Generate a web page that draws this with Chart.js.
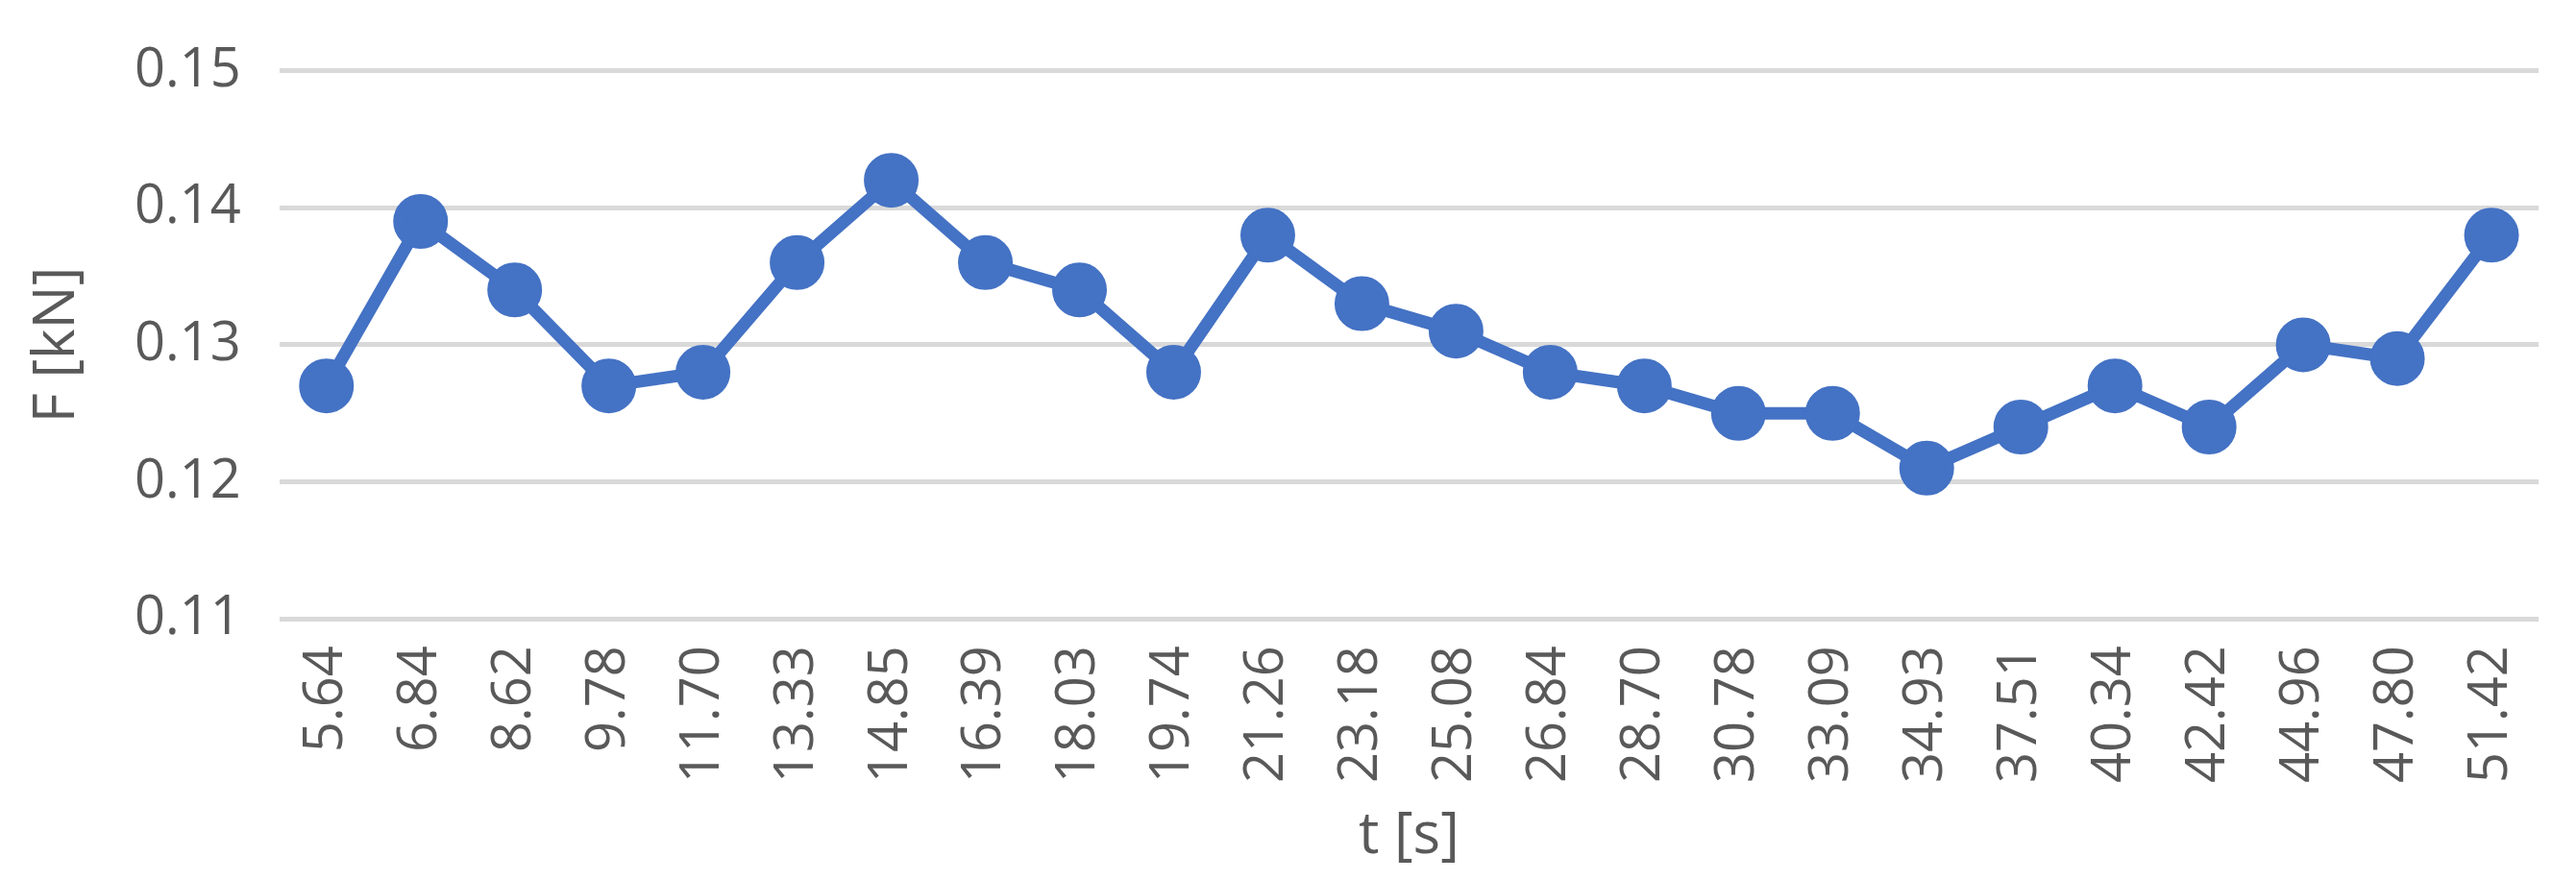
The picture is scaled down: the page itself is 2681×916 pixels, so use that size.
<!DOCTYPE html>
<html><head><meta charset="utf-8">
<script src="https://cdn.jsdelivr.net/npm/chart.js@4"></script>
<style>html,body{margin:0;padding:0;background:#fff}</style>
</head><body>
<canvas id="c" width="2681" height="916"></canvas>
<script>
const categories = ["5.64","6.84","8.62","9.78","11.70","13.33","14.85","16.39","18.03","19.74","21.26","23.18","25.08","26.84","28.70","30.78","33.09","34.93","37.51","40.34","42.42","44.96","47.80","51.42"];
const forceValues = [0.127,0.139,0.134,0.127,0.128,0.136,0.142,0.136,0.134,0.128,0.138,0.133,0.131,0.128,0.127,0.125,0.125,0.121,0.124,0.127,0.124,0.130,0.129,0.138];
const font = {family:"'Open Sans','Liberation Sans',sans-serif", size:56};
new Chart(document.getElementById('c'), {
  type:'line',
  data:{labels:categories, datasets:[{data:forceValues, borderColor:'#4472C4', backgroundColor:'#4472C4', borderWidth:13, pointRadius:22, pointHoverRadius:22, tension:0}]},
  options:{
    responsive:false, animation:false,
    layout:{padding:{top:20,right:15,left:20,bottom:5}},
    plugins:{legend:{display:false}, tooltip:{enabled:false}},
    scales:{
      x:{offset:true, grid:{display:false}, border:{display:false},
         ticks:{color:'#595959', font:font, minRotation:90, maxRotation:90, autoSkip:false, padding:20},
         title:{display:true, text:'t [s]', color:'#595959', font:{family:font.family,size:60}, padding:{top:0}}},
      y:{min:0.11, max:0.15, grid:{color:'#d9d9d9', lineWidth:5, drawTicks:false}, border:{display:false},
         ticks:{stepSize:0.01, color:'#595959', font:font, padding:40, callback:v=>v.toFixed(2)},
         title:{display:true, text:'F [kN]', color:'#595959', font:{family:font.family,size:60}}}
    }
  }
});
</script>
</body></html>
